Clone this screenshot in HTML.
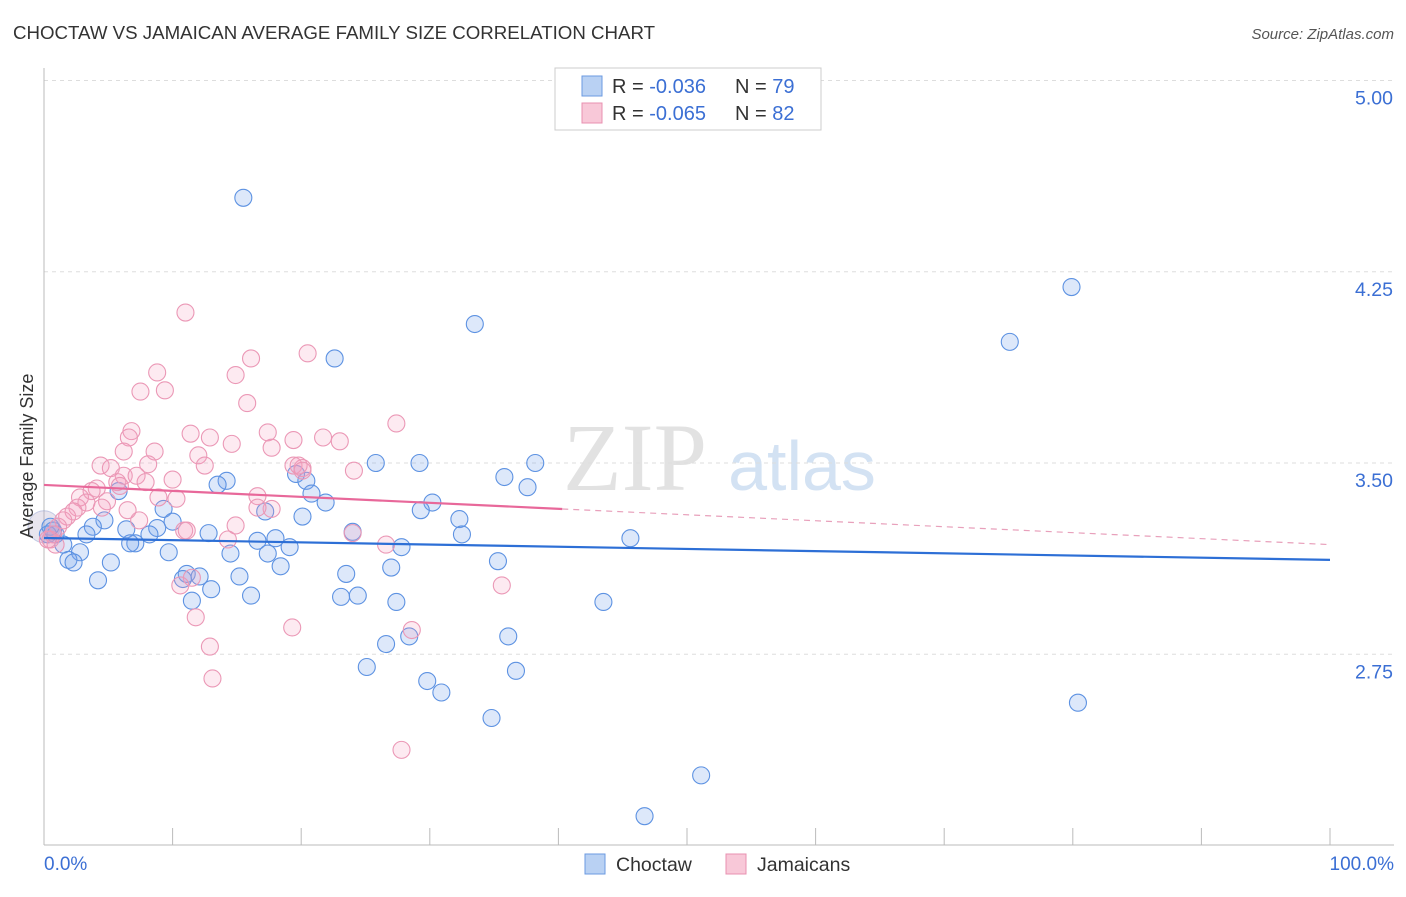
<!DOCTYPE html>
<html><head><meta charset="utf-8"><style>
body{margin:0;background:#fff;font-family:"Liberation Sans",sans-serif;}
svg text{font-family:"Liberation Sans",sans-serif;}
</style></head><body>
<svg id="c" width="1406" height="892">
<text x="13" y="39" font-size="18.7" fill="#333">CHOCTAW VS JAMAICAN AVERAGE FAMILY SIZE CORRELATION CHART</text>
<text x="1394" y="39" font-size="15" fill="#555" font-style="italic" text-anchor="end">Source: ZipAtlas.com</text>
<g>
<text x="635" y="490" font-size="96" fill="#e2e2e2" text-anchor="middle" font-family="Liberation Serif" style="font-family:'Liberation Serif',serif">ZIP</text>
<text x="802" y="490" font-size="70" fill="#d3e2f3" text-anchor="middle">atlas</text>
</g>
<g id="grid"></g><g id="axes"></g><g id="pts"></g><g id="lines"></g>
<text x="33" y="456" font-size="18" fill="#333" text-anchor="middle" transform="rotate(-90 33 456)">Average Family Size</text>
<g>
<rect x="555" y="68" width="266" height="62" fill="#fff" stroke="#ccc"/>
<rect x="582" y="76" width="20" height="20" fill="#b9d1f3" stroke="#6b9ae0"/>
<rect x="582" y="103" width="20" height="20" fill="#f8c8d8" stroke="#e890b0"/>
<text x="612" y="93" font-size="20" fill="#333">R = <tspan fill="#3b6fd4">-0.036</tspan></text>
<text x="735" y="93" font-size="20" fill="#333">N = <tspan fill="#3b6fd4">79</tspan></text>
<text x="612" y="120" font-size="20" fill="#333">R = <tspan fill="#3b6fd4">-0.065</tspan></text>
<text x="735" y="120" font-size="20" fill="#333">N = <tspan fill="#3b6fd4">82</tspan></text>
</g>
<g>
<rect x="585" y="854" width="20" height="20" fill="#b9d1f3" stroke="#6b9ae0"/>
<text x="616" y="871" font-size="19.5" fill="#333">Choctaw</text>
<rect x="726" y="854" width="20" height="20" fill="#f8c8d8" stroke="#e890b0"/>
<text x="757" y="871" font-size="19.5" fill="#333">Jamaicans</text>
</g>
</svg>
<script>
const yTicks=[5.00,4.25,3.50,2.75];
const yTickLabels=["5.00","4.25","3.50","2.75"];
const xTickCount=10;
const blueX=[15.5,79.9,33.5,75.1,22.6,25.8,29.2,38.2,35.8,37.6,14.2,13.5,5.8,19.6,20.4,20.8,30.2,29.3,21.9,17.2,20.1,32.3,9.3,10.0,4.7,3.8,8.8,6.4,8.2,12.8,3.3,0.9,0.7,1.5,7.1,6.7,2.8,1.9,2.3,5.2,9.7,14.5,16.6,18.0,19.1,17.4,18.4,24.0,27.8,32.5,35.3,45.6,11.1,10.8,12.1,15.2,23.5,27.0,4.2,11.5,13.0,16.1,23.1,24.4,27.4,43.5,26.6,28.4,36.1,25.1,36.7,29.8,30.9,34.8,80.4,51.1,46.7,0.3,0.5];
const blueY=[4.54,4.19,4.045,3.975,3.91,3.50,3.50,3.50,3.445,3.405,3.43,3.415,3.39,3.457,3.43,3.38,3.345,3.315,3.345,3.31,3.29,3.28,3.32,3.27,3.275,3.25,3.245,3.24,3.22,3.225,3.22,3.22,3.235,3.18,3.185,3.185,3.15,3.12,3.11,3.11,3.15,3.145,3.195,3.205,3.17,3.145,3.095,3.23,3.17,3.22,3.115,3.205,3.065,3.045,3.055,3.055,3.065,3.09,3.04,2.96,3.005,2.98,2.975,2.98,2.955,2.955,2.79,2.82,2.82,2.70,2.685,2.645,2.60,2.50,2.56,2.275,2.115,3.22,3.25];
const pinkX=[11.0,20.5,16.1,8.8,14.9,7.5,9.4,15.8,27.4,6.8,6.6,11.4,12.9,8.6,6.2,14.6,17.4,21.7,23.0,19.4,12.0,17.7,4.4,5.2,8.1,12.5,24.1,19.4,20.1,6.2,7.2,10.0,5.7,4.1,5.9,7.9,3.7,2.8,8.9,10.3,16.6,4.9,3.3,17.7,2.6,4.5,1.8,2.3,1.5,7.4,14.9,10.9,11.1,24.0,1.1,0.7,0.5,0.9,0.3,26.6,35.6,11.8,11.5,10.6,12.9,13.1,19.3,28.6,27.8,19.8,20.1,6.5,14.3,16.6];
const pinkY=[4.09,3.93,3.91,3.855,3.845,3.78,3.785,3.735,3.655,3.625,3.60,3.615,3.60,3.545,3.545,3.575,3.62,3.60,3.585,3.59,3.53,3.56,3.49,3.48,3.495,3.49,3.47,3.49,3.48,3.45,3.45,3.435,3.425,3.40,3.41,3.425,3.39,3.365,3.365,3.36,3.37,3.35,3.345,3.32,3.325,3.325,3.29,3.31,3.275,3.275,3.255,3.235,3.235,3.225,3.25,3.22,3.20,3.18,3.20,3.18,3.02,2.895,3.05,3.02,2.78,2.655,2.855,2.845,2.375,3.49,3.47,3.315,3.20,3.325];
const blueTrend=[3.206,3.12];
const pinkTrend=[3.414,3.18];
const pinkSolidEnd=40.3;

const NS="http://www.w3.org/2000/svg";
const X0=44,X1=1330;
const sx=v=>X0+(X1-X0)*v/100;
const sy=v=>463-(v-3.5)*255;
function mk(tag,attrs,parent){const e=document.createElementNS(NS,tag);for(const k in attrs)e.setAttribute(k,attrs[k]);document.getElementById(parent).appendChild(e);return e;}
yTicks.forEach((t,i)=>{
  const l=mk('line',{x1:44,x2:1394,y1:sy(t),y2:sy(t),stroke:'#ddd','stroke-dasharray':'4,4'},'grid');
  
  
  const tx=mk('text',{x:1393,y:sy(t)+24,'font-size':19.5,fill:'#3b6fd4','text-anchor':'end'},'grid');
  tx.textContent=yTickLabels[i];
  
  
});
let a=mk('line',{x1:44,x2:44,y1:68,y2:845,stroke:'#bbb'},'axes');


a=mk('line',{x1:44,x2:1394,y1:845,y2:845,stroke:'#bbb'},'axes');


for(let i=0;i<=xTickCount;i++){
  const t=mk('line',{x1:sx(i*10),x2:sx(i*10),y1:828,y2:845,stroke:'#bbb'},'axes');
  
  
}
let xl=mk('text',{x:44,y:870,'font-size':19,fill:'#3b6fd4'},'axes');xl.textContent='0.0%';


xl=mk('text',{x:1394,y:870,'font-size':19,fill:'#3b6fd4','text-anchor':'end'},'axes');xl.textContent='100.0%';


let big=mk('circle',{cx:sx(0),cy:sy(3.25),r:16,fill:'rgba(180,170,200,0.3)',stroke:'rgba(120,140,200,0.4)'},'pts');


blueX.forEach((x,i)=>{
  const c=mk('circle',{cx:sx(x),cy:sy(blueY[i]),r:8.5,fill:'rgba(120,165,235,0.25)',stroke:'#5d92e2','stroke-width':1.1},'pts');
  
  
});
pinkX.forEach((x,i)=>{
  const c=mk('circle',{cx:sx(x),cy:sy(pinkY[i]),r:8.5,fill:'rgba(245,160,190,0.22)',stroke:'#eb98b6','stroke-width':1.1},'pts');
  
  
});
let bl=mk('line',{x1:sx(0),y1:sy(blueTrend[0]),x2:sx(100),y2:sy(blueTrend[1]),stroke:'#2d6fd6','stroke-width':2.2},'lines');


const pm=pinkTrend[0]+(pinkTrend[1]-pinkTrend[0])*pinkSolidEnd/100;
let pl=mk('line',{x1:sx(0),y1:sy(pinkTrend[0]),x2:sx(pinkSolidEnd),y2:sy(pm),stroke:'#e8689a','stroke-width':2.2},'lines');


let pd=mk('line',{x1:sx(pinkSolidEnd),y1:sy(pm),x2:sx(100),y2:sy(pinkTrend[1]),stroke:'#e8a0bb','stroke-width':1.2,'stroke-dasharray':'6,5'},'lines');


</script>
</body></html>
